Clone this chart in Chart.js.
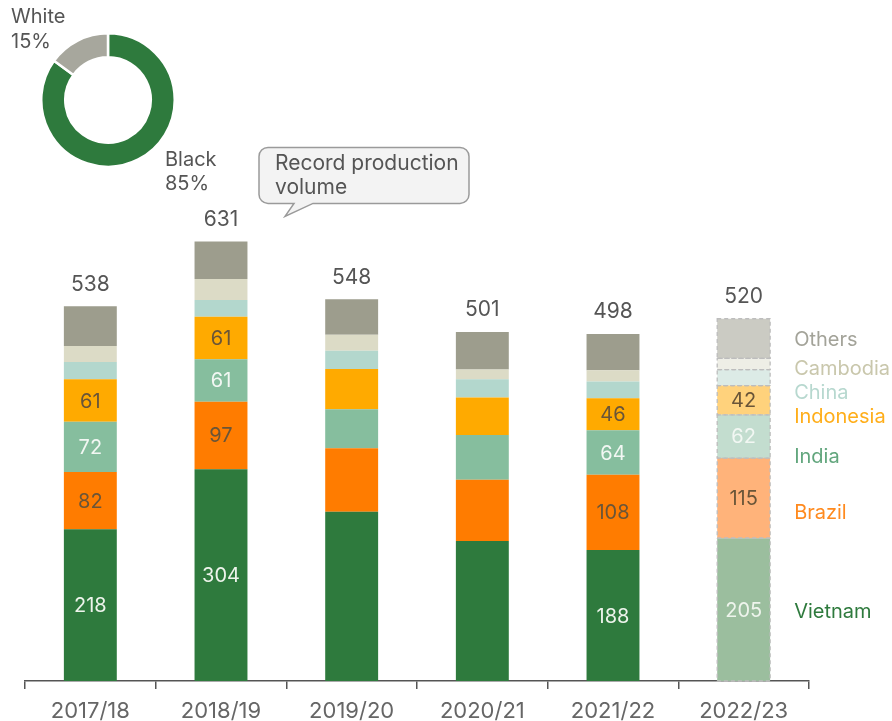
<!DOCTYPE html>
<html>
<head>
<meta charset="utf-8">
<script src="https://cdn.jsdelivr.net/npm/chart.js@4"></script>
<style>
  html, body { margin: 0; padding: 0; background: #fff; }
  #wrap { position: relative; width: 892px; height: 721px; }
  #main { position: absolute; left: 0; top: 0; }
  #donut { position: absolute; left: 40px; top: 32px; }
</style>
</head>
<body>
<div id="wrap">
  <canvas id="main" width="892" height="721"></canvas>
  <canvas id="donut" width="136" height="136"></canvas>
</div>
<script>
// data
var categories = ['2017/18', '2018/19', '2019/20', '2020/21', '2021/22', '2022/23'];
var vietnam   = [218, 304, 243, 201, 188, 205];
var brazil    = [82, 97, 91, 88, 108, 115];
var india     = [72, 61, 56, 64, 64, 62];
var indonesia = [61, 61, 58, 54, 46, 42];
var china     = [25, 24, 26, 26, 24, 23];
var cambodia  = [23, 30, 23, 14, 16, 16];
var others    = [57, 54, 51, 54, 52, 57];
var totals    = [538, 631, 548, 501, 498, 520];
var showValues = [true, true, false, false, true, true];
var seriesNames = ['Vietnam', 'Brazil', 'India', 'Indonesia', 'China', 'Cambodia', 'Others'];
var donutLabels = ['Black', 'White'];
var donutValues = [85, 15];

var solidColors = ['#2E7A3D', '#FF7C00', '#86BE9E', '#FFAA00', '#B3D7CD', '#DCDBC6', '#9D9D8D'];
var fadedColors = ['#9BBE9E', '#FFB37A', '#C3DDCF', '#FFD27C', '#DCEBE6', '#EEEEE6', '#CBCBC3'];
var nameColors  = ['#2E7A3D', '#FF8A1E', '#62A67D', '#FFAE1A', '#B7D8CF', '#C9C7AC', '#A3A399'];
var valueColors = ['#EEF4EC', '#6A5538', '#F2F7F3', '#6A5538'];
var fadedValueColors = ['#EEF4EC', '#6A5538', '#F2F7F3', '#6A5538'];
// small vertical nudges for the names beside the last bar
var nameNudge = [2, 15, 21, 0, 0, 5, 1];

var seriesData = [vietnam, brazil, india, indonesia, china, cambodia, others];
var lastIdx = categories.length - 1;
var FONT = 'Inter, "Noto Sans", sans-serif';

Chart.defaults.font.family = FONT;

function barColors(i) {
  return categories.map(function(c, k) { return k == lastIdx ? fadedColors[i] : solidColors[i]; });
}

var datasets = seriesData.map(function(d, i) {
  return {
    label: seriesNames[i],
    data: d,
    backgroundColor: barColors(i),
    borderWidth: 0,
    barPercentage: 0.405,
    categoryPercentage: 1.0,
  };
});

var annotate = {
  id: 'annotate',
  afterDatasetsDraw: function(chart) {
    var ctx = chart.ctx;
    ctx.save();

    // dashed outline on the forecast bar
    ctx.setLineDash([4, 3]);
    ctx.strokeStyle = '#BDBDBD';
    ctx.lineWidth = 1.3;
    for (var i = 0; i < seriesData.length; i++) {
      var el = chart.getDatasetMeta(i).data[lastIdx];
      ctx.strokeRect(el.x - el.width / 2, el.y, el.width, el.base - el.y);
    }
    ctx.setLineDash([]);

    // values inside segments
    ctx.textAlign = 'center';
    ctx.textBaseline = 'middle';
    ctx.font = '20px ' + FONT;
    for (var s = 0; s < 4; s++) {
      var meta = chart.getDatasetMeta(s);
      for (var k = 0; k < categories.length; k++) {
        if (!showValues[k]) continue;
        var b = meta.data[k];
        ctx.fillStyle = k == lastIdx ? fadedValueColors[s] : valueColors[s];
        ctx.fillText(seriesData[s][k], b.x, (b.y + b.base) / 2 + 1);
      }
    }

    // totals above bars
    var topMeta = chart.getDatasetMeta(seriesData.length - 1);
    ctx.fillStyle = '#555';
    ctx.font = '21px ' + FONT;
    for (var k = 0; k < categories.length; k++) {
      var t = topMeta.data[k];
      ctx.fillText(totals[k], t.x, t.y - 22);
    }

    // series names next to the last bar
    ctx.textAlign = 'left';
    ctx.font = '20px ' + FONT;
    var prevY = -1000;
    for (var i = seriesData.length - 1; i >= 0; i--) {
      var el = chart.getDatasetMeta(i).data[lastIdx];
      var y = (el.y + el.base) / 2 + nameNudge[i];
      if (y < prevY + 24) y = prevY + 24;
      prevY = y;
      ctx.fillStyle = nameColors[i];
      ctx.fillText(seriesNames[i], el.x + el.width / 2 + 24, y);
    }

    // donut labels
    ctx.fillStyle = '#555';
    ctx.font = '20px ' + FONT;
    ctx.fillText(donutLabels[1], 11, 17);
    ctx.fillText(donutValues[1] + '%', 11, 42);
    ctx.fillText(donutLabels[0], 165, 160);
    ctx.fillText(donutValues[0] + '%', 165, 184);

    // callout over the record bar
    var rec = topMeta.data[1];
    var tipX = rec.x + 64, tipY = rec.y - 25;
    var bx = tipX - 26, by = tipY - 69, bw = 210, bh = 56, r = 9;
    ctx.beginPath();
    ctx.moveTo(bx + r, by);
    ctx.lineTo(bx + bw - r, by);
    ctx.arcTo(bx + bw, by, bx + bw, by + r, r);
    ctx.lineTo(bx + bw, by + bh - r);
    ctx.arcTo(bx + bw, by + bh, bx + bw - r, by + bh, r);
    ctx.lineTo(tipX + 28, by + bh);
    ctx.lineTo(tipX, tipY);
    ctx.lineTo(tipX + 9, by + bh);
    ctx.lineTo(bx + r, by + bh);
    ctx.arcTo(bx, by + bh, bx, by + bh - r, r);
    ctx.lineTo(bx, by + r);
    ctx.arcTo(bx, by, bx + r, by, r);
    ctx.closePath();
    ctx.fillStyle = '#F3F3F3';
    ctx.fill();
    ctx.strokeStyle = '#9A9A9A';
    ctx.lineWidth = 1.5;
    ctx.stroke();
    ctx.fillStyle = '#555';
    ctx.font = '21px ' + FONT;
    ctx.fillText('Record production', bx + 16, by + 16);
    ctx.fillText('volume', bx + 16, by + 40);

    ctx.restore();
  }
};

var chart = new Chart(document.getElementById('main').getContext('2d'), {
  type: 'bar',
  data: { labels: categories, datasets: datasets },
  options: {
    responsive: false,
    animation: false,
    layout: { padding: { left: 25, right: 83, top: 54, bottom: -12 } },
    plugins: { legend: { display: false }, tooltip: { enabled: false } },
    scales: {
      x: {
        stacked: true,
        grid: {
          display: true,
          drawOnChartArea: false,
          drawTicks: true,
          tickLength: 8,
          color: '#555',
          lineWidth: 1.5,
        },
        border: { display: true, color: '#555', width: 1.5 },
        ticks: { color: '#666', font: { size: 22, lineHeight: 1 }, padding: 11, maxRotation: 0 },
      },
      y: {
        stacked: true,
        display: false,
        min: 0,
        max: 900,
      }
    }
  },
  plugins: [annotate]
});

var donut = new Chart(document.getElementById('donut').getContext('2d'), {
  type: 'doughnut',
  data: {
    labels: donutLabels,
    datasets: [{
      data: donutValues,
      backgroundColor: ['#2E7A3D', '#A7A79D'],
      borderColor: '#fff',
      borderWidth: 2.5,
    }]
  },
  options: {
    responsive: false,
    animation: false,
    cutout: '64%',
    plugins: { legend: { display: false }, tooltip: { enabled: false } }
  }
});
</script>
</body>
</html>
